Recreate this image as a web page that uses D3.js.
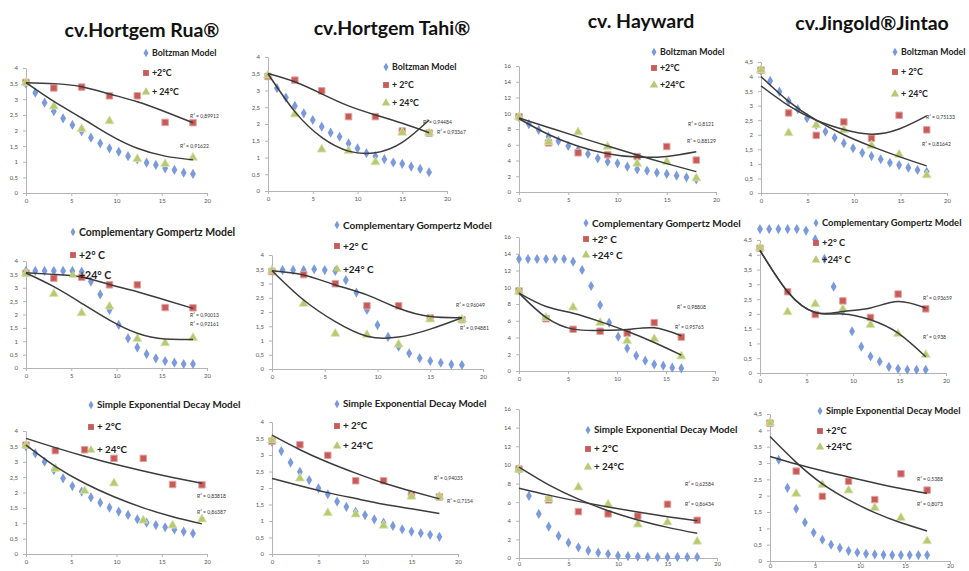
<!DOCTYPE html>
<html>
<head>
<meta charset="utf-8">
<script src="https://cdnjs.cloudflare.com/ajax/libs/d3/7.8.5/d3.min.js"></script>
<style>
body { margin: 0; background: #fff; }
svg { display: block; font-family: Lato, "Open Sans", sans-serif; }
</style>
</head>
<body>
<div id="chart"></div>
<script>
// storage days
var days = [0, 1, 2, 3, 4, 5, 6, 7, 8, 9, 10, 11, 12, 13, 14, 15, 16, 17, 18];
var obsDays = [0, 3, 6, 9, 12, 15, 18];
var xTicks = [0, 5, 10, 15, 20];

var cultivars = ["cv.Hortgem Rua®", "cv.Hortgem Tahi®", "cv. Hayward", "cv.Jingold®Jintao"];
var models = ["Boltzman Model", "Complementary Gompertz Model", "Simple Exponential Decay Model"];
var yMax = [4, 4, 16, 4.5];      // per cultivar
var yStep = [0.5, 0.5, 2, 0.5];

/* measured values, +2°C (cold) and +24°C (warm), same in every model row */
var ruaCold  = [3.54, 3.36, 3.39, 3.11, 3.11, 2.26, 2.25];
var ruaWarm  = [3.53, 2.77, 2.05, 2.30, 1.09, 0.93, 1.13];
var tahiCold = [3.42, 3.31, 2.99, 2.22, 2.22, 1.79, 1.73];
var tahiWarm = [3.45, 2.29, 1.24, 1.20, 0.86, 1.74, 1.74];
var haywCold = [9.55, 6.24, 4.98, 4.74, 4.50, 5.77, 4.05];
var haywWarm = [9.5, 6.34, 7.59, 5.75, 3.60, 3.83, 1.76];
var jingCold = [4.22, 2.75, 1.98, 2.44, 1.88, 2.67, 2.17];
var jingWarm = [4.23, 2.06, 2.33, 2.16, 1.63, 1.32, 0.61];

/* model predictions (blue diamonds), one value per day */
var ruaBoltz  = [3.5, 3.21, 2.89, 2.62, 2.39, 2.18, 1.98, 1.77, 1.59, 1.43, 1.32, 1.18, 1.08, 0.97, 0.90, 0.79, 0.74, 0.65, 0.61];
var tahiBoltz = [3.45, 3.07, 2.79, 2.54, 2.32, 2.12, 1.92, 1.74, 1.62, 1.42, 1.27, 1.13, 1.04, 0.95, 0.85, 0.81, 0.73, 0.66, 0.56];
var haywBoltz = [9.5, 8.63, 7.87, 7.02, 6.48, 5.84, 5.33, 4.83, 4.28, 3.85, 3.64, 3.21, 2.88, 2.71, 2.45, 2.29, 2.07, 1.86, 1.61];
var jingBoltz = [4.2, 3.85, 3.48, 3.16, 2.88, 2.57, 2.34, 2.11, 1.90, 1.71, 1.54, 1.38, 1.27, 1.16, 1.04, 0.96, 0.87, 0.79, 0.73];

var ruaGomp  = [3.63, 3.63, 3.63, 3.63, 3.63, 3.63, 3.6, 3.23, 2.75, 2.17, 1.61, 1.11, 0.77, 0.52, 0.36, 0.26, 0.20, 0.15, 0.15];
var tahiGomp = [3.47, 3.47, 3.47, 3.47, 3.50, 3.47, 3.44, 3.12, 2.68, 2.07, 1.54, 1.13, 0.78, 0.55, 0.38, 0.28, 0.22, 0.16, 0.14];
var haywGomp = [13.37, 13.37, 13.37, 13.37, 13.37, 13.37, 13.05, 12.06, 10.15, 7.88, 5.77, 4.10, 2.71, 1.83, 1.23, 0.80, 0.64, 0.40, 0.32];
var jingGomp = [4.87, 4.87, 4.87, 4.87, 4.87, 4.82, 4.52, 3.86, 2.92, 2.1, 1.41, 0.89, 0.56, 0.39, 0.21, 0.14, 0.11, 0.11, 0.11];

var ruaExp  = [3.5, 3.27, 3.0, 2.73, 2.46, 2.21, 2.03, 1.84, 1.67, 1.51, 1.38, 1.27, 1.13, 1.02, 0.94, 0.87, 0.80, 0.73, 0.67];
var tahiExp = [3.4, 3.12, 2.77, 2.49, 2.24, 1.99, 1.81, 1.59, 1.43, 1.28, 1.18, 1.05, 0.95, 0.85, 0.75, 0.68, 0.63, 0.58, 0.52];
var haywExp = [9.5, 6.67, 4.73, 3.37, 2.37, 1.65, 1.15, 0.79, 0.57, 0.43, 0.25, 0.2, 0.15, 0.12, 0.1, 0.1, 0.1, 0.1, 0.1];
var jingExp = [4.25, 3.1, 2.24, 1.60, 1.18, 0.87, 0.65, 0.50, 0.40, 0.31, 0.26, 0.22, 0.2, 0.19, 0.18, 0.18, 0.18, 0.18, 0.18];

/* trendlines read at obsDays */
var ruaBoltzFitC  = [3.53, 3.50, 3.40, 3.17, 2.92, 2.60, 2.25];
var ruaBoltzFitW  = [3.53, 2.93, 2.40, 1.86, 1.43, 1.18, 1.06];
var tahiBoltzFitC = [3.51, 3.26, 2.90, 2.54, 2.27, 2.02, 1.74];
var tahiBoltzFitW = [3.5, 2.37, 1.60, 1.19, 1.14, 1.45, 2.12];
var haywBoltzFitC = [9.3, 7.3, 5.82, 4.86, 4.43, 4.52, 5.1];
var haywBoltzFitW = [9.4, 8.2, 7.0, 5.85, 4.7, 3.6, 2.58];
var jingBoltzFitC = [3.68, 3.0, 2.5, 2.18, 2.02, 2.2, 2.65];
var jingBoltzFitW = [4.0, 3.15, 2.5, 2.0, 1.6, 1.25, 0.93];

var ruaGompFitC  = [3.56, 3.5, 3.4, 3.12, 2.85, 2.54, 2.23];
var ruaGompFitW  = [3.55, 3.04, 2.42, 1.79, 1.30, 1.08, 1.07];
var tahiGompFitC = [3.45, 3.3, 2.95, 2.6, 2.13, 1.84, 1.8];
var tahiGompFitW = [3.45, 2.42, 1.66, 1.15, 1.12, 1.4, 1.8];
var haywGompFitC = [9.3, 6.4, 5.0, 4.85, 4.95, 5.15, 4.2];
var haywGompFitW = [9.3, 7.7, 6.9, 5.9, 4.75, 3.4, 1.9];
var jingGompFitC = [4.15, 2.75, 2.05, 2.08, 2.2, 2.42, 2.2];
var jingGompFitW = [4.15, 2.75, 2.05, 2.0, 1.8, 1.35, 0.55];

var ruaExpFitC  = [3.76, 3.46, 3.18, 2.93, 2.7, 2.49, 2.3];
var ruaExpFitW  = [3.54, 2.85, 2.30, 1.86, 1.50, 1.21, 0.98];
var tahiExpFitC = [3.6, 3.16, 2.78, 2.45, 2.15, 1.90, 1.67];
var tahiExpFitW = [2.29, 2.07, 1.86, 1.68, 1.51, 1.37, 1.23];
var haywExpFitC = [7.5, 6.75, 6.08, 5.48, 4.93, 4.44, 4.0];
var haywExpFitW = [9.75, 7.85, 6.32, 5.08, 4.09, 3.29, 2.65];
var jingExpFitC = [3.2, 2.97, 2.76, 2.57, 2.39, 2.22, 2.07];
var jingExpFitW = [3.81, 3.02, 2.36, 1.87, 1.48, 1.17, 0.92];

// R² labels, row by row
var r2Boltz = [["R² = 0,89912", "R² = 0,91622"], ["R² = 0,94484", "R² = 0,93367"], ["R² = 0,8121", "R² = 0,88129"], ["R² = 0,75133", "R² = 0,81642"]];
var r2Gomp  = [["R² = 0,90013", "R² = 0,92161"], ["R² = 0,96049", "R² = 0,94881"], ["R² = 0,98808", "R² = 0,95765"], ["R² = 0,93659", "R² = 0,938"]];
var r2Exp   = [["R² = 0,83818", "R² = 0,86387"], ["R² = 0,94035", "R² = 0,7154"], ["R² = 0,62584", "R² = 0,86434"], ["R² = 0,5388", "R² = 0,8073"]];

// legend texts for the two temperatures
var coldLabels = [["+2°C", "+ 2°C", "+2°C", "+ 2°C"], ["+2° C", "+2° C", "+2° C", "+2° C"], ["+ 2°C", "+ 2°C", "+ 2°C", "+2°C"]];
var warmLabels = [["+ 24°C", "+ 24°C", "+24°C", "+ 24°C"], ["+24° C", "+24° C", "+24° C", "+24° C"], ["+ 24°C", "+ 24°C", "+ 24°C", "+24°C"]];

var blueSets = [[ruaBoltz, tahiBoltz, haywBoltz, jingBoltz], [ruaGomp, tahiGomp, haywGomp, jingGomp], [ruaExp, tahiExp, haywExp, jingExp]];
var coldSets = [ruaCold, tahiCold, haywCold, jingCold];
var warmSets = [ruaWarm, tahiWarm, haywWarm, jingWarm];
var fitC = [[ruaBoltzFitC, tahiBoltzFitC, haywBoltzFitC, jingBoltzFitC], [ruaGompFitC, tahiGompFitC, haywGompFitC, jingGompFitC], [ruaExpFitC, tahiExpFitC, haywExpFitC, jingExpFitC]];
var fitW = [[ruaBoltzFitW, tahiBoltzFitW, haywBoltzFitW, jingBoltzFitW], [ruaGompFitW, tahiGompFitW, haywGompFitW, jingGompFitW], [ruaExpFitW, tahiExpFitW, haywExpFitW, jingExpFitW]];
var r2Sets = [r2Boltz, r2Gomp, r2Exp];

/* where every small chart sits on the page (pixels) */
// x0/x1: x axis 0..20, y0/y1: y axis 0..max, kb/ko: width factor for model/measured points
// fs: legend font size, pad: tick label padding under the x axis
var layout = [
  [
    {x0: 26,  x1: 207, y0: 193, y1: 68, kb: 1.025, ko: 1.025, fs: 8.8, pad: 3, leg: [146, 53, 73, 92],   r2: [[190, 116], [180, 146]]},
    {x0: 268, x1: 447, y0: 191, y1: 57, kb: 1,     ko: 1,     fs: 8.8, pad: 3, leg: [386, 67, 85, 103],  r2: [[423, 122], [437, 132]]},
    {x0: 519, x1: 716, y0: 192, y1: 66, kb: 1,     ko: 1,     fs: 8.8, pad: 3, leg: [654, 52, 68, 85],   r2: [[688, 124], [687, 141]]},
    {x0: 761, x1: 947, y0: 193, y1: 62, kb: 0.99,  ko: 0.99,  fs: 8.8, pad: 3, leg: [895, 52, 72, 94],   r2: [[926, 117], [922, 144]]}
  ],
  [
    {x0: 26,  x1: 207, y0: 368, y1: 261, kb: 1.025, ko: 1.025, fs: 10.5, pad: 3, leg: [73, 232, 255, 275],  r2: [[190, 315], [190, 324]]},
    {x0: 272, x1: 483, y0: 369, y1: 255, kb: 1,     ko: 1,     fs: 10,   pad: 3, leg: [337, 225, 246, 269], r2: [[456, 305], [460, 328]]},
    {x0: 519, x1: 715, y0: 371, y1: 237, kb: 0.92,  ko: 0.92,  fs: 10,   pad: 3, leg: [586, 223, 239, 255], r2: [[677, 307], [675, 327]]},
    {x0: 760, x1: 946, y0: 373, y1: 240, kb: 0.99,  ko: 0.99,  fs: 9.4,  pad: 3, leg: [816, 223, 243, 260], r2: [[923, 298], [923, 337]]}
  ],
  [
    {x0: 26,  x1: 207, y0: 554, y1: 431, kb: 1.025, ko: 1.08, fs: 9.8, pad: 3, leg: [91, 405, 427, 450],  r2: [[197, 496], [197, 512]]},
    {x0: 272, x1: 458, y0: 554, y1: 422, kb: 1,     ko: 1,    fs: 9.8, pad: 3, leg: [337, 404, 426, 446], r2: [[434, 478], [447, 501]]},
    {x0: 519, x1: 717, y0: 558, y1: 409, kb: 1,     ko: 1,    fs: 9.8, pad: 1, leg: [588, 430, 449, 467], r2: [[685, 484], [685, 504]]},
    {x0: 770, x1: 950, y0: 561, y1: 414, kb: 0.97,  ko: 0.97, fs: 9.2, pad: 0, leg: [820, 411, 431, 447], r2: [[917, 479], [917, 504]]}
  ]
];
var titlePos = [[142, 37], [392, 35], [641, 28], [872, 30]];

var blue = "#7b9add", red = "#c85a58", green = "#b5ca72";

var svg = d3.select("#chart").append("svg")
    .attr("width", 969)
    .attr("height", 571);

// titles
svg.selectAll("text.title")
  .data(cultivars)
  .enter()
  .append("text")
    .attr("class", "title")
    .attr("x", function(d, i) { return titlePos[i][0]; })
    .attr("y", function(d, i) { return titlePos[i][1]; })
    .attr("text-anchor", "middle")
    .style("font-size", "19.5px")
    .style("font-weight", "bold")
    .style("fill", "#111")
    .text(function(d) { return d; });

function commaFmt(d) {
  return String(Math.round(d * 10) / 10).replace(".", ",");
}

var diamond = d3.symbol().type(d3.symbolDiamond);
var square = d3.symbol().type(d3.symbolSquare);
var triangle = d3.symbol().type(d3.symbolTriangle);

function drawPanel(row, col) {
  var L = layout[row][col];
  var g = svg.append("g");

  var x = d3.scaleLinear().domain([0, 20]).range([L.x0, L.x1]);
  var xb = d3.scaleLinear().domain([0, 20]).range([L.x0, L.x0 + (L.x1 - L.x0) * L.kb]);
  var xo = d3.scaleLinear().domain([0, 20]).range([L.x0, L.x0 + (L.x1 - L.x0) * L.ko]);
  var y = d3.scaleLinear().domain([0, yMax[col]]).range([L.y0, L.y1]);
  var yTicks = d3.range(0, yMax[col] + yStep[col] / 2, yStep[col]);

  // axes
  var ax = g.append("g")
      .attr("transform", "translate(0," + L.y0 + ")")
      .call(d3.axisBottom(x).tickValues(xTicks).tickSize(3).tickSizeOuter(0).tickPadding(L.pad));
  var ay = g.append("g")
      .attr("transform", "translate(" + L.x0 + ",0)")
      .call(d3.axisLeft(y).tickValues(yTicks).tickSize(3).tickSizeOuter(0).tickPadding(5).tickFormat(commaFmt));
  [ax, ay].forEach(function(a) {
    a.attr("font-family", null).attr("font-size", null);
    a.selectAll(".domain, .tick line").attr("stroke", "#b4b4b4");
    a.selectAll("text").style("font-size", "6px").style("fill", "#555");
  });

  // R² labels
  r2Sets[row][col].forEach(function(t, i) {
    g.append("text")
      .attr("x", L.r2[i][0])
      .attr("y", L.r2[i][1])
      .attr("dy", "0.35em")
      .style("font-size", "5px")
      .style("fill", "#333")
      .text(t);
  });

  // model points
  g.selectAll("path.blue")
    .data(blueSets[row][col])
    .enter()
    .append("path")
      .attr("class", "blue")
      .attr("d", diamond.size(30))
      .attr("transform", function(d, i) { return "translate(" + xb(days[i]) + "," + y(d) + ")"; })
      .style("fill", blue);

  // measured points
  g.selectAll("path.cold")
    .data(coldSets[col])
    .enter()
    .append("path")
      .attr("class", "cold")
      .attr("d", square.size(42))
      .attr("transform", function(d, i) { return "translate(" + xo(obsDays[i]) + "," + y(d) + ")"; })
      .style("fill", red)
      .style("stroke", "#e2a3a1")
      .style("stroke-width", 1);

  g.selectAll("path.warm")
    .data(warmSets[col])
    .enter()
    .append("path")
      .attr("class", "warm")
      .attr("d", triangle.size(36))
      .attr("transform", function(d, i) { return "translate(" + xo(obsDays[i]) + "," + y(d) + ")"; })
      .style("fill", green)
      .style("stroke", "#dbe5ad")
      .style("stroke-width", 0.8);

  // trendlines
  var line = d3.line()
      .x(function(d, i) { return xo(obsDays[i]); })
      .y(function(d) { return y(d); })
      .curve(d3.curveNatural);
  [fitC[row][col], fitW[row][col]].forEach(function(f) {
    g.append("path")
      .attr("d", line(f))
      .style("fill", "none")
      .style("stroke", "#3c3c3c")
      .style("stroke-width", 1.5);
  });

  // legend
  var lx = L.leg[0];
  var items = [
    {sym: diamond.size(22), fill: blue, label: models[row], y: L.leg[1]},
    {sym: square.size(34), fill: red, label: coldLabels[row][col], y: L.leg[2]},
    {sym: triangle.size(30), fill: green, label: warmLabels[row][col], y: L.leg[3]}
  ];
  items.forEach(function(it) {
    g.append("path")
      .attr("d", it.sym)
      .attr("transform", "translate(" + lx + "," + it.y + ")")
      .style("fill", it.fill);
    g.append("text")
      .attr("x", lx + 6)
      .attr("y", it.y)
      .attr("dy", "0.35em")
      .style("font-size", L.fs + "px")
      .style("font-weight", "bold")
      .style("fill", "#222")
      .text(it.label);
  });
}

for (var r = 0; r < 3; r++) {
  for (var c = 0; c < 4; c++) {
    drawPanel(r, c);
  }
}
</script>
</body>
</html>
